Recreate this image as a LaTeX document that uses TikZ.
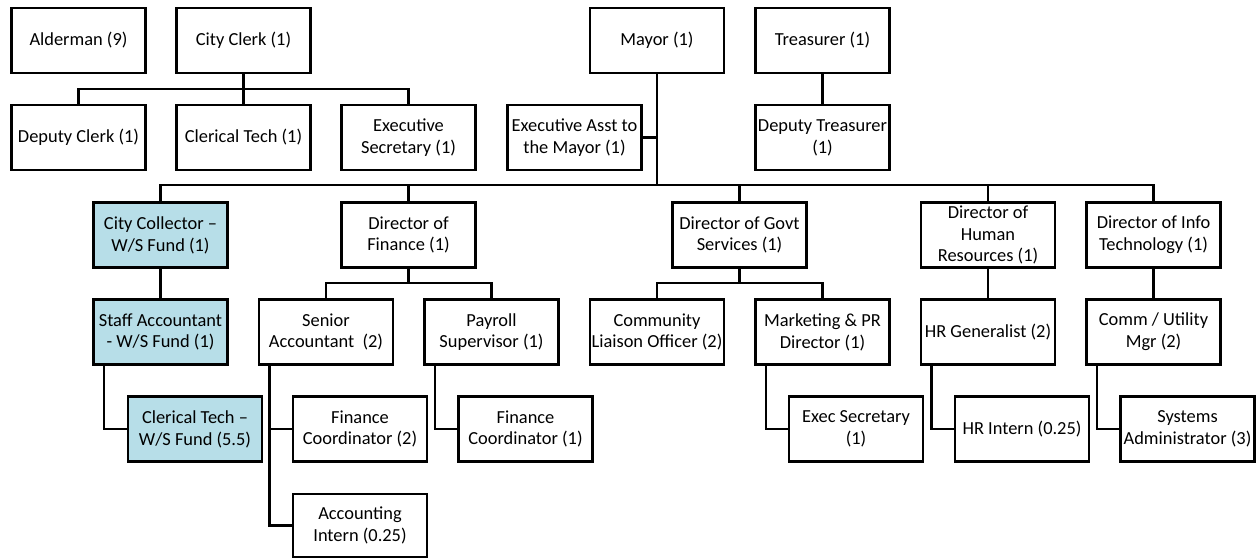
\documentclass[tikz,border=0pt]{standalone}
\usepackage{fontspec}
\setmainfont{Carlito}
\usetikzlibrary{calc}
\definecolor{wsfund}{HTML}{B7DEE8}
\begin{document}
\begin{tikzpicture}[x=1pt,y=-1pt,
  box/.style={draw, line width=2.4pt, minimum width=134pt, minimum height=65pt,
    inner sep=0pt, align=center, font=\fontsize{18.4}{21.8}\selectfont},
  wsbox/.style={box, fill=wsfund},
  link/.style={line width=2.4pt}]
\useasboundingbox (0,0) rectangle (1260,558);

% top row
\node[box] (ald)   at (78.5,40.5)  {Alderman (9)};
\node[box] (clerk) at (243.5,40.5) {City Clerk (1)};
\node[box] (mayor) at (657,40.5)   {Mayor (1)};
\node[box] (treas) at (822.5,40.5) {Treasurer (1)};

% second row
\node[box] (dclerk) at (78.5,137.5)  {Deputy Clerk (1)};
\node[box] (ctech)  at (243.5,137.5) {Clerical Tech (1)};
\node[box] (esec)   at (408.5,137.5) {Executive\\Secretary (1)};
\node[box] (easst)  at (574.5,137.5) {Executive Asst to\\the Mayor (1)};
\node[box] (dtreas) at (822.5,137.5) {Deputy Treasurer\\(1)};

% directors
\node[wsbox] (coll) at (160.5,235) {City Collector –\\W/S Fund (1)};
\node[box] (dfin)   at (408.5,235) {Director of\\Finance (1)};
\node[box] (dgov)   at (739.5,235) {Director of Govt\\Services (1)};
\node[box] (dhr)    at (988,235)   {Director of\\Human\\Resources (1)};
\node[box] (dit)    at (1153.5,235) {Director of Info\\Technology (1)};

% fourth row
\node[wsbox] (staff) at (160.5,332) {Staff Accountant\\- W/S Fund (1)};
\node[box] (sacct)  at (326,332)    {Senior\\Accountant~ (2)};
\node[box] (payr)   at (491.5,332)  {Payroll\\Supervisor (1)};
\node[box] (comm)   at (657,332)    {Community\\Liaison Officer (2)};
\node[box] (mkt)    at (822.5,332)  {Marketing \& PR\\Director (1)};
\node[box] (hrgen)  at (988,332)    {HR Generalist (2)};
\node[box] (util)   at (1153.5,332) {Comm / Utility\\Mgr (2)};

% fifth row
\node[wsbox] (ctws) at (195,429)  {Clerical Tech –\\W/S Fund (5.5)};
\node[box] (fc2)    at (360,429)   {Finance\\Coordinator (2)};
\node[box] (fc1)    at (525.5,429) {Finance\\Coordinator (1)};
\node[box] (xsec)   at (856,429)   {Exec Secretary\\(1)};
\node[box] (hrint)  at (1022,429)  {HR Intern (0.25)};
\node[box] (sysad)  at (1187.5,429) {Systems\\Administrator (3)};

% last row
\node[box, minimum height=63pt] (aint) at (360,525.5) {Accounting\\Intern (0.25)};

% bus levels
\coordinate (clerkbus) at (0,89);
\coordinate (mainbus)  at (0,185);
\coordinate (finbus)   at (0,283);
\coordinate (govbus)   at (0,283);

% city clerk
\foreach \c in {dclerk,ctech,esec}
  \draw[link] (clerk.south) -- (clerk.south |- clerkbus) -| (\c.north);

% mayor and the main bus
\draw[link] (mayor.south) -- (mayor.south |- mainbus);
\draw[link] (easst.east) -- (easst.east -| mayor.south);
\foreach \c in {coll,dfin,dgov,dhr,dit}
  \draw[link] (mayor.south |- mainbus) -| (\c.north);

% treasurer
\draw[link] (treas.south) -- (dtreas.north);

% directors to staff
\draw[link] (coll.south) -- (staff.north);
\foreach \c in {sacct,payr}
  \draw[link] (dfin.south) -- (dfin.south |- finbus) -| (\c.north);
\foreach \c in {comm,mkt}
  \draw[link] (dgov.south) -- (dgov.south |- govbus) -| (\c.north);
\draw[link] (dhr.south) -- (hrgen.north);
\draw[link] (dit.south) -- (util.north);

% side links
\draw[link] ([xshift=11.5pt]staff.south west) |- (ctws.west);
\draw[link] ([xshift=11.5pt]sacct.south west) |- (fc2.west);
\draw[link] ([xshift=11.5pt]sacct.south west) |- (aint.west);
\draw[link] ([xshift=11.5pt]payr.south west) |- (fc1.west);
\draw[link] ([xshift=11.5pt]mkt.south west) |- (xsec.west);
\draw[link] ([xshift=11.5pt]hrgen.south west) |- (hrint.west);
\draw[link] ([xshift=11.5pt]util.south west) |- (sysad.west);
\end{tikzpicture}
\end{document}
